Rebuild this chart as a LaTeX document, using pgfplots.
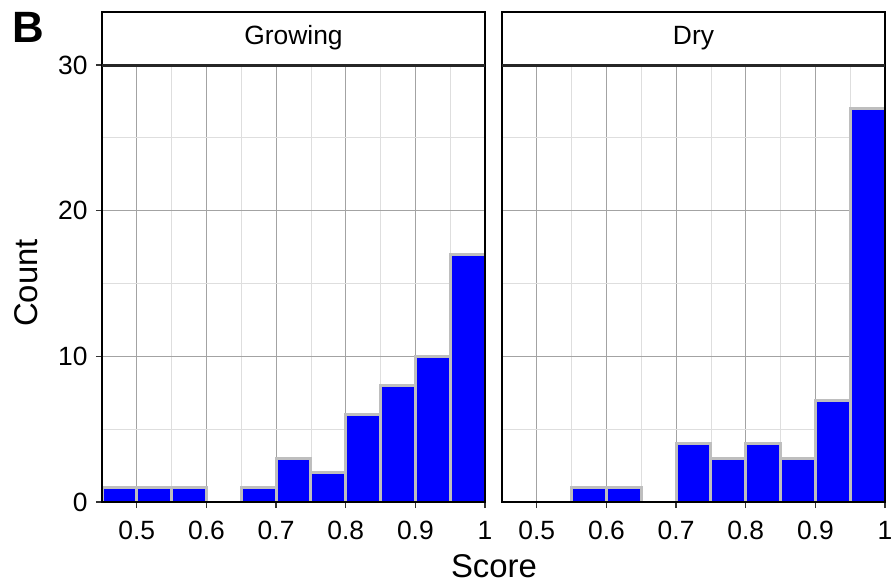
\documentclass[border=0pt]{standalone}
\usepackage{pgfplots}
\pgfplotsset{compat=1.18}
\usepackage{fontspec}
\setmainfont{Liberation Sans}
\definecolor{barline}{HTML}{BEBEBE}
\definecolor{majgrid}{HTML}{A3A3A3}
\definecolor{mingrid}{HTML}{DEDEDE}
\begin{document}
\begin{tikzpicture}
\path[use as bounding box] (0bp,0bp) rectangle (892bp,-584bp);
\pgfplotsset{panel/.style={
  width=383bp, height=437bp, scale only axis,
  xmin=0.45, xmax=1, ymin=0, ymax=30,
  clip mode=individual,
  axis line style={black, line width=1.5bp},
  xtick={0.5,0.6,0.7,0.8,0.9,1},
  xticklabels={0.5,0.6,0.7,0.8,0.9,1},
  minor xtick={0.55,0.65,0.75,0.85,0.95},
  ytick={0,10,20,30},
  minor ytick={5,15,25},
  grid=both,
  major grid style={majgrid, line width=0.7bp},
  minor grid style={mingrid, line width=0.7bp},
  tick align=outside,
  major tick length=6bp,
  minor tick length=0pt,
  tick style={black!80, line width=1.2bp},
  xtick pos=lower, ytick pos=left,
  ticklabel style={font=\fontsize{26.5}{26.5}\selectfont},
  xticklabel style={yshift=-10bp},
  yticklabel style={xshift=-5bp},
  /pgf/number format/assume math mode=true,
}}
% Left panel: Growing
\begin{axis}[panel, at={(102bp,-502bp)}, anchor=south west,
  yticklabels={0,10,20,30}]
\addplot[ybar interval, fill=blue, draw=barline, line width=3bp]
  coordinates {(0.45,1) (0.50,1) (0.55,1) (0.60,1)};
\addplot[ybar interval, fill=blue, draw=barline, line width=3bp]
  coordinates {(0.65,1) (0.70,3) (0.75,2) (0.80,6) (0.85,8) (0.90,10) (0.95,17) (1.00,17)};
\draw[black, line width=1.5bp] (rel axis cs:0,0) rectangle (rel axis cs:1,1);
\draw[black, line width=1.5bp, fill=white] (rel axis cs:0,1) rectangle ([yshift=53bp]rel axis cs:1,1);
\draw[black!85, line width=3bp] (rel axis cs:0,1) -- (rel axis cs:1,1);
\node[font=\fontsize{26.5}{26.5}\selectfont] at ([yshift=27bp]rel axis cs:0.5,1) {Growing};
\end{axis}
% Right panel: Dry
\begin{axis}[panel, at={(502bp,-502bp)}, anchor=south west,
  yticklabels={}, ytick style={draw=none}]
\addplot[ybar interval, fill=blue, draw=barline, line width=3bp]
  coordinates {(0.55,1) (0.60,1) (0.65,1)};
\addplot[ybar interval, fill=blue, draw=barline, line width=3bp]
  coordinates {(0.70,4) (0.75,3) (0.80,4) (0.85,3) (0.90,7) (0.95,27) (1.00,27)};
\draw[black, line width=1.5bp] (rel axis cs:0,0) rectangle (rel axis cs:1,1);
\draw[black, line width=1.5bp, fill=white] (rel axis cs:0,1) rectangle ([yshift=53bp]rel axis cs:1,1);
\draw[black!85, line width=3bp] (rel axis cs:0,1) -- (rel axis cs:1,1);
\node[font=\fontsize{26.5}{26.5}\selectfont] at ([yshift=27bp]rel axis cs:0.5,1) {Dry};
\end{axis}
\node[font=\bfseries\fontsize{44}{44}\selectfont] at (28bp,-27bp) {B};
\node[rotate=90, font=\fontsize{33}{33}\selectfont] at (26bp,-283bp) {Count};
\node[font=\fontsize{33}{33}\selectfont] at (494bp,-566bp) {Score};
\end{tikzpicture}
\end{document}
